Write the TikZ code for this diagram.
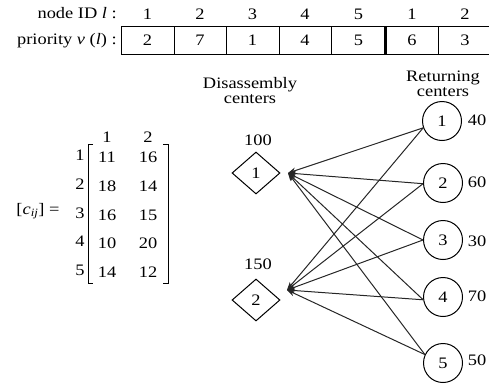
\documentclass[tikz,border=0pt]{standalone}
\usepackage{fontspec}
\setmainfont[FakeStretch=1.15]{Liberation Serif}
\usetikzlibrary{shapes.geometric,arrows.meta}
\begin{document}
\begin{tikzpicture}[x=1pt,y=-1pt,
  txt/.style={inner sep=0pt,font=\fontsize{16}{18}\selectfont},
  cell/.style={draw,line width=1pt,minimum height=28pt,inner sep=0pt,font=\fontsize{16}{18}\selectfont},
  dcenter/.style={draw,diamond,line width=1pt,minimum width=48pt,minimum height=42pt,inner sep=0pt,font=\fontsize{16}{18}\selectfont},
  rcenter/.style={draw,circle,line width=1pt,minimum size=39pt,inner sep=0pt,font=\fontsize{16}{18}\selectfont},
  link/.style={line width=1pt,draw=black!85,-{Stealth[length=8pt,width=6pt]}},
  brk/.style={line width=1pt}]
\useasboundingbox (0,0) rectangle (489,383);

% table
\node[txt,anchor=east] (hdr) at (117,13) {node ID \textit{l} :};
\node[txt,anchor=east] (pri) at (117,41) {priority \textit{v} (\textit{l}) :};
\foreach \i/\xa/\xb/\n/\v in {1/121/174/1/2,2/174/226/2/7,3/226/279/3/1,4/279/331/4/4,5/331/386/5/5,6/386/438/1/6,7/438/492/2/3}{
  \node[cell,minimum width=\xb pt-\xa pt] (cell\i) at ({(\xa+\xb)/2},40.5) {\v};
  \node[txt] (id\i) at ({(\xa+\xb)/2},14) {\n};
}
\draw[line width=2.6pt] (cell6.north west) -- (cell6.south west);

% matrix
\node[txt] (clabel) at (38,211) {[\textit{c}\textsubscript{\textit{ij}}] =};
\node[txt] (col1) at (107,137) {1};
\node[txt] (col2) at (148,137) {2};
\foreach \r/\y/\a/\b in {1/157/11/16,2/186/18/14,3/215/16/15,4/243/10/20,5/272/14/12}{
  \node[txt] (row\r) at (80,\y-2) {\r};
  \node[txt] (m\r a) at (107,\y) {\a};
  \node[txt] (m\r b) at (148,\y) {\b};
}
\draw[brk] (93,144) -- (88,144) -- (88,283) -- (93,283);
\draw[brk] (163,144) -- (168,144) -- (168,283) -- (163,283);

% headings
\node[txt,align=center] (dis) at (250,91) {Disassembly\\[-3pt]centers};
\node[txt,align=center] (ret) at (443,84) {Returning\\[-3pt]centers};

% disassembly centers
\node[dcenter] (d1) at (256,173) {1};
\node[dcenter] (d2) at (256,300) {2};
\node[txt] (q1) at (258,140) {100};
\node[txt] (q2) at (258,264) {150};
\coordinate (t1) at (288,173);
\coordinate (t2) at (287,290);

% returning centers
\node[rcenter] (c1) at (442,121) {1};
\node[rcenter] (c2) at (443,183) {2};
\node[rcenter] (c3) at (443,240) {3};
\node[rcenter] (c4) at (443,297) {4};
\node[rcenter] (c5) at (443,363) {5};
\node[txt] (s1) at (477,120) {40};
\node[txt] (s2) at (477,182) {60};
\node[txt] (s3) at (477,241) {30};
\node[txt] (s4) at (477,296) {70};
\node[txt] (s5) at (477,360) {50};

% links
\foreach \c/\a in {c1/200,c2/182,c3/180,c4/188,c5/155}{
  \draw[link] (\c.\a) -- (t1);
  \draw[link] (\c.\a) -- (t2);
}
\end{tikzpicture}
\end{document}
